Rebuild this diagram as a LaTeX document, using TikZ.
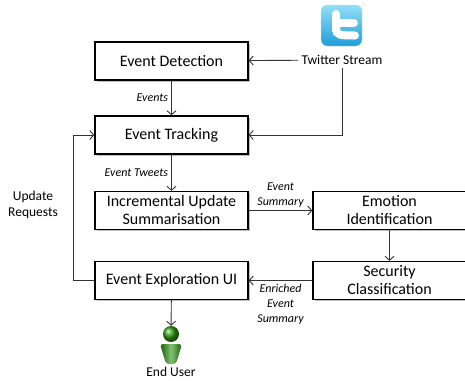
\documentclass[tikz,border=0pt]{standalone}
\usepackage{fontspec}
\setmainfont{Carlito}
\usetikzlibrary{arrows.meta,shadows}
\definecolor{twlight}{HTML}{93DEF8}
\definecolor{twdark}{HTML}{1E9DD8}
\definecolor{usergreen}{HTML}{2E9A0E}
\begin{document}
\begin{tikzpicture}[x=1pt,y=-1pt,
  block/.style={draw,line width=1.3pt,fill=white,minimum width=153pt,minimum height=38pt,
    inner sep=1pt,align=center,font=\fontsize{16}{18}\selectfont,
    drop shadow={shadow xshift=1.6pt,shadow yshift=-1.6pt,opacity=0.5}},
  flow/.style={draw=black!80,line width=0.9pt,-{Straight Barb[length=4pt,width=9pt]}},
  lbl/.style={font=\fontsize{12}{15}\selectfont\itshape,align=center,inner sep=3pt},
  txt/.style={font=\fontsize{13.5}{15.5}\selectfont,align=center}]
  \useasboundingbox (0,0) rectangle (465,380);

  \node[block] (detect) at (171.5,61) {Event Detection};
  \node[block] (track) at (171.5,135) {Event Tracking};
  \node[block] (summ) at (171.5,210.5) {Incremental Update\\Summarisation};
  \node[block] (emotion) at (389.5,210.5) {Emotion\\Identification};
  \node[block] (secur) at (389.5,280.5) {Security\\Classification};
  \node[block] (explore) at (171.5,280.5) {Event Exploration UI};

  \node[txt] (stream) at (342,60) {Twitter Stream};
  \node[txt] (requests) at (33,205) {Update\\Requests};
  \node[txt] (user) at (171,372) {End User};

  % twitter logo
  \shade[rounded corners=6pt,top color=twlight,bottom color=twdark,draw=twlight!70!white]
    (321,5) rectangle (362,46);
  \draw[white,line width=8pt,line cap=round] (336,14) -- (336,28)
    .. controls (336,35.5) and (340,35.5) .. (355,35.5);
  \draw[white,line width=7.5pt,line cap=round] (336,23) -- (354,23);

  % end user icon
  \shade[rounded corners=3pt,left color=usergreen!60!black,right color=usergreen!60!black,
    middle color=usergreen!60!white] (160,344) -- (182,344) -- (176,364) -- (166,364) -- cycle;
  \node[circle,inner sep=0pt,minimum size=16pt,ball color=usergreen] (usericon) at (171,334) {};

  \draw[flow] (stream) -- (detect);
  \draw[flow] (stream.south) |- (track);
  \draw[flow] (detect) -- node[lbl,left] {Events} (track);
  \draw[flow] (track) -- node[lbl,left] {Event Tweets} (summ);
  \draw[flow] (summ) -- node[lbl,above] {Event\\Summary} (emotion);
  \draw[flow] (emotion) -- (secur);
  \draw[flow] (secur) -- node[lbl,below] {Enriched\\Event\\Summary} (explore);
  \draw[flow] (explore) -- (usericon);
  \draw[flow] (explore.west) -- ++(-21,0) |- (track.west);
\end{tikzpicture}
\end{document}
